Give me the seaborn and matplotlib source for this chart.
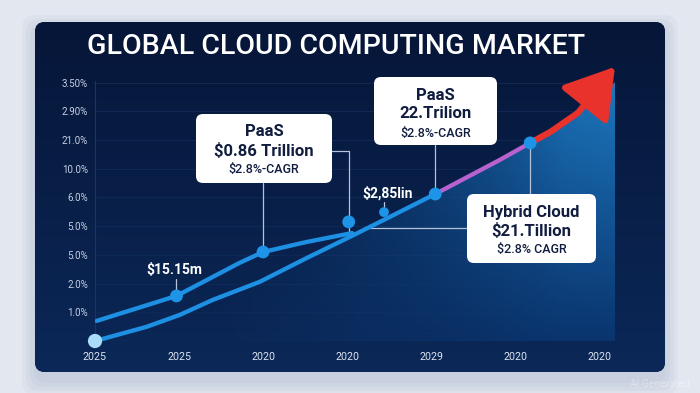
import numpy as np
import matplotlib
matplotlib.use("Agg")
import matplotlib.pyplot as plt
from matplotlib.patches import FancyBboxPatch, Polygon
from matplotlib.colors import to_rgb
import seaborn as sns

sns.set_style("dark")
plt.rcParams["font.family"] = ["Roboto", "DejaVu Sans"]

# axis labels (as printed on the chart)
x_labels = ["2025", "2025", "2020", "2020", "2029", "2020", "2020"]
y_labels = ["1.0%", "2.0%", "5.0%", "5.0%", "6.0%", "10.0%", "21.0%", "2.90%", "3.50%"]

# upper line on the left
line_a_x = [0.02, 0.97, 1.72, 2.0, 2.52, 3.06]
line_a_y = [0.70, 1.57, 2.72, 3.10, 3.45, 3.76]

# main growth line: blue, then pink, then red arrow
line_b_x = [0.0, 0.61, 1.01, 1.40, 1.96, 2.52, 3.03, 3.44, 4.05]
line_b_y = [0.0, 0.49, 0.91, 1.43, 2.06, 2.89, 3.62, 4.22, 5.12]
pink_x = [4.05, 4.82, 5.18]
pink_y = [5.12, 6.31, 6.90]
red_x = [5.18, 5.42, 5.75]
red_y = [6.90, 7.28, 7.95]
arrow_tip = (6.19, 9.55)
area_tail_x = [6.0, 6.19]
area_tail_y = [8.45, 9.02]

# highlighted points
pts_x = [0.97, 2.0, 3.02, 4.05, 5.18]
pts_y = [1.57, 3.10, 4.15, 5.12, 6.90]
small_pt = (3.44, 4.49)
start_pt = (0.0, 0.0)

callouts = [
    ("PaaS", "$0.86 Trillion", "$2.8%-CAGR"),
    ("PaaS", "22.Trilion", "$2.8%-CAGR"),
    ("Hybrid Cloud", "$21.Tillion", "$2.8% CAGR"),
]
point_labels = ["$15.15m", "$2,85lin"]

BLUE = "#1d90e4"
PINK = "#b862d0"
RED = "#e8322b"
NAVY_TXT = "#111d3f"
CONN = "#b5c3da"

W, H = 700, 393
fig = plt.figure(figsize=(W / 100, H / 100), dpi=100)
fig.patch.set_facecolor("#e3e8f0")

# background panel
bg = fig.add_axes([0, 0, 1, 1], zorder=0)
bg.set_xlim(0, W)
bg.set_ylim(H, 0)
bg.axis("off")
for i in range(4):
    g = 3 + i * 4
    bg.add_patch(FancyBboxPatch((35 - g + 2, 22 - g + 8), 630 + 2 * g - 4, 350 + 2 * g,
                                boxstyle="round,pad=0,rounding_size=14",
                                fc="#5a6d9c", ec="none", alpha=0.05))
panel = FancyBboxPatch((35, 22), 630, 350, boxstyle="round,pad=0,rounding_size=10",
                       fc="#081d46", ec="none")
bg.add_patch(panel)
top_c, bot_c = np.array(to_rgb("#061638")), np.array(to_rgb("#0b2858"))
t = np.linspace(0, 1, 200)[:, None, None]
grad = top_c * (1 - t) + bot_c * t
grad = np.repeat(grad, 2, axis=1)
im = bg.imshow(grad, extent=(35, 665, 372, 22), aspect="auto", zorder=1)
im.set_clip_path(panel)

# main chart axes
ax = fig.add_axes([95 / W, 52 / H, 520 / W, 267 / H], zorder=1)
ax.set_facecolor("none")
XMAX, YMAX = 6.19, 9.3

# gradient area under the main line
poly_x = line_b_x + pink_x[1:] + red_x[1:] + area_tail_x + [area_tail_x[-1], 0]
poly_y = line_b_y + pink_y[1:] + red_y[1:] + area_tail_y + [0, 0]
poly = Polygon(np.column_stack([poly_x, poly_y]), closed=True, fc="none", ec="none")
ax.add_patch(poly)
gx = np.linspace(0, XMAX, 300)[None, :]
gy = np.linspace(0, YMAX, 200)[:, None]
c_lo, c_hi = np.array(to_rgb("#0a3670")), np.array(to_rgb("#1f80ca"))
mix = np.clip(gy / 9.0, 0, 1)[..., None] * np.clip(gx / XMAX, 0, 1)[..., None]
rgba = np.zeros((200, 300, 4))
rgba[..., :3] = c_lo * (1 - mix) + c_hi * mix
rgba[..., 3] = np.clip((gx - 1.3) / 4.3, 0, 1) ** 1.1 * 0.92 * np.ones_like(gy)
area = ax.imshow(rgba, extent=(0, XMAX, 0, YMAX), origin="lower", aspect="auto", zorder=1)
area.set_clip_path(poly)

sns.lineplot(x=line_a_x, y=line_a_y, sort=False, estimator=None, color=BLUE, lw=3.1,
             ax=ax, zorder=3, solid_capstyle="round", solid_joinstyle="round")
sns.lineplot(x=line_b_x, y=line_b_y, sort=False, estimator=None, color=BLUE, lw=3.1,
             ax=ax, zorder=3, solid_capstyle="round", solid_joinstyle="round")
sns.lineplot(x=pink_x, y=pink_y, sort=False, estimator=None, color=PINK, lw=3.1,
             ax=ax, zorder=3, solid_capstyle="round")
sns.lineplot(x=red_x, y=red_y, sort=False, estimator=None, color=RED, lw=4.5,
             ax=ax, zorder=3, solid_capstyle="round", solid_joinstyle="round")
ax.annotate("", xy=arrow_tip, xytext=(red_x[-1], red_y[-1]),
            arrowprops=dict(arrowstyle="-|>,head_length=1.0,head_width=0.62", color=RED,
                            lw=4.5, mutation_scale=30, shrinkA=0, shrinkB=0),
            annotation_clip=False, zorder=4)

sns.scatterplot(x=pts_x, y=pts_y, s=85, color="#1e94e8", edgecolor="none", ax=ax,
                zorder=6, clip_on=False)
sns.scatterplot(x=[small_pt[0]], y=[small_pt[1]], s=50, color="#1e94e8", edgecolor="none",
                ax=ax, zorder=6)
sns.scatterplot(x=[start_pt[0]], y=[start_pt[1]], s=105, color="#a9dcf8", edgecolor="none",
                ax=ax, zorder=6, clip_on=False)

ax.set_xlim(0, XMAX)
ax.set_ylim(0, YMAX)
ax.set_xticks(range(len(x_labels)))
ax.set_xticklabels(x_labels)
ax.set_yticks(range(1, len(y_labels) + 1))
ax.set_yticklabels(y_labels)
ax.tick_params(axis="x", length=0, pad=8, labelsize=7.7, labelcolor="#dde4f1")
ax.tick_params(axis="y", length=0, pad=5, labelsize=7, labelcolor="#c6d0e3")
ax.grid(False)
for yv in range(1, len(y_labels) + 1):
    ax.axhline(yv, color="#112b58", lw=0.6, zorder=0)
ax.axhline(0, color="#1c3a6c", lw=0.9, zorder=0)
for s in ["top", "right", "bottom"]:
    ax.spines[s].set_visible(False)
ax.spines["left"].set_color("#1b3563")
ax.spines["left"].set_linewidth(0.8)
ax.spines["left"].set_bounds(0, 9.05)
ax.set_xlabel("")
ax.set_ylabel("")

# overlay in pixel coordinates
ov = fig.add_axes([0, 0, 1, 1], zorder=2)
ov.set_xlim(0, W)
ov.set_ylim(H, 0)
ov.axis("off")
ov.patch.set_alpha(0)


def to_px(x, y):
    dx, dy = ax.transData.transform((x, y))
    return dx, H - dy


ov.text(336, 47, "GLOBAL CLOUD COMPUTING MARKET", ha="center", va="center",
        fontsize=20.5, fontweight="medium", color="white")

# connectors (drawn in the chart axes so markers stay on top)
pt = ov.transData
m1 = to_px(pts_x[1], pts_y[1])
m2 = to_px(pts_x[2], pts_y[2])
a_end = to_px(line_a_x[-1], line_a_y[-1])
m3 = to_px(pts_x[3], pts_y[3])
m4 = to_px(pts_x[4], pts_y[4])
m0 = to_px(pts_x[0], pts_y[0])
ms = to_px(*small_pt)
conn = [
    ([m1[0], m1[0]], [183, m1[1]]),
    ([332, m2[0], m2[0]], [151, 151, a_end[1]]),
    ([m3[0], m3[0]], [145, m3[1]]),
    ([m4[0], m4[0]], [m4[1], 194]),
    ([370, 467], [228, 228]),
    ([m0[0], m0[0]], [279, 290]),
    ([ms[0], ms[0]], [202, 207]),
]
for cx, cy in conn:
    ax.plot(cx, cy, color=CONN, lw=0.9, transform=pt, zorder=2, clip_on=False)

boxes = [(196, 114, 136, 69), (374, 77, 123, 68), (467, 194, 129, 69)]
for (bx, by, bw, bh), lines in zip(boxes, callouts):
    ov.add_patch(FancyBboxPatch((bx, by), bw, bh, boxstyle="round,pad=0,rounding_size=7",
                                fc="white", ec="none", zorder=3))
    cx = bx + bw / 2
    ov.text(cx, by + 18, lines[0], ha="center", va="center", fontsize=12,
            fontweight="bold", color=NAVY_TXT, zorder=4)
    ov.text(cx, by + 37, lines[1], ha="center", va="center", fontsize=12,
            fontweight="bold", color=NAVY_TXT, zorder=4)
    ov.text(cx, by + 56, lines[2], ha="center", va="center", fontsize=9,
            fontweight="medium", color=NAVY_TXT, zorder=4)

ov.text(m0[0] - 2, 270, point_labels[0], ha="center", va="center", fontsize=10,
        fontweight="bold", color="white")
ov.text(ms[0] + 4, 193, point_labels[1], ha="center", va="center", fontsize=10,
        fontweight="bold", color="white")

ov.text(690, 384, "AI Generated", ha="right", va="center", fontsize=7.5,
        color="white", alpha=0.35)

fig.savefig("out.png", dpi=100, facecolor=fig.get_facecolor())
